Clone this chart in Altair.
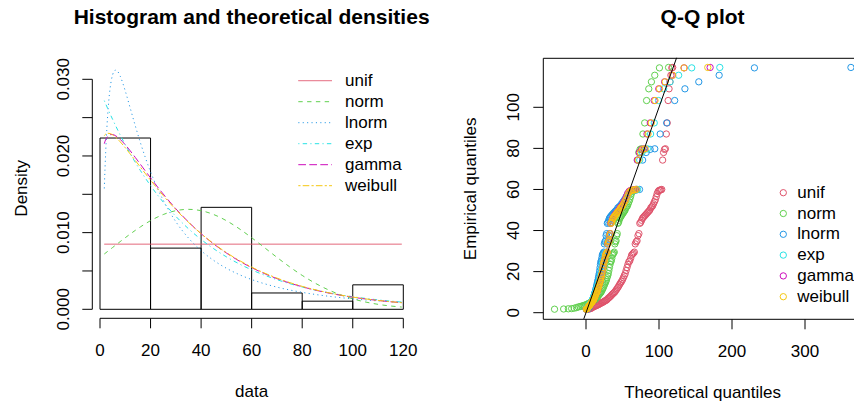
import altair as alt
import pandas as pd

FONT = "Liberation Sans"

# ---------------- data ----------------
dists = ["unif", "norm", "lnorm", "exp", "gamma", "weibull"]
colors = ["#DF536B", "#61D04F", "#2297E6", "#28E2E5", "#CD0BBC", "#F5C710"]
dashes = [[1, 0], [4.4, 4.4], [1.1, 3.3], [1.1, 3.3, 4.4, 3.3], [7.7, 3.3], [2.2, 2.2, 6.6, 2.2]]

# histogram
hist_left = [0, 20, 40, 60, 80, 100]
hist_right = [20, 40, 60, 80, 100, 120]
hist_density = [0.02234, 0.00798, 0.01330, 0.00213, 0.00106, 0.00319]

# theoretical densities
unif_x = [1.7, 119.4]
unif_d = [0.008496, 0.008496]

dens_x = [1.7, 2, 3, 4, 5, 6, 7, 8, 10, 12, 14, 16, 18, 20, 25, 30, 35, 40, 45, 50,
          55, 60, 70, 80, 90, 100, 110, 119.4]
exp_d = [0.027216, 0.026984, 0.026224, 0.025485, 0.024768, 0.024070, 0.023392, 0.022733,
         0.021471, 0.020279, 0.019152, 0.018089, 0.017084, 0.016135, 0.013987, 0.012125,
         0.010511, 0.009111, 0.007899, 0.006847, 0.005936, 0.005146, 0.003867, 0.002906,
         0.002184, 0.001641, 0.001233, 0.000942]
gamma_d = [0.021609, 0.021925, 0.022546, 0.022779, 0.022794, 0.022668, 0.022448, 0.022162,
           0.021460, 0.020652, 0.019790, 0.018907, 0.018020, 0.017142, 0.015040, 0.013116,
           0.011389, 0.009859, 0.008514, 0.007340, 0.006317, 0.005431, 0.004001, 0.002940,
           0.002153, 0.001575, 0.001151, 0.000855]
weibull_d = [0.022646, 0.022780, 0.022966, 0.022922, 0.022751, 0.022500, 0.022190, 0.021843,
             0.021074, 0.020247, 0.019396, 0.018538, 0.017685, 0.016847, 0.014843, 0.013005,
             0.011347, 0.009866, 0.008556, 0.007401, 0.006390, 0.005506, 0.004070, 0.002993,
             0.002191, 0.001598, 0.001161, 0.000858]

norm_x = [1.7, 2, 3, 4, 5, 6, 7, 8, 10, 12, 14, 16, 18, 20, 25, 30, 35, 40, 45, 50,
          55, 60, 65, 70, 75, 80, 85, 90, 95, 100, 110, 119.4]
norm_d = [0.007212, 0.007289, 0.007546, 0.007804, 0.008063, 0.008321, 0.008578, 0.008834,
          0.009338, 0.009829, 0.010302, 0.010751, 0.011173, 0.011561, 0.012359, 0.012864,
          0.013037, 0.012864, 0.012359, 0.011561, 0.010530, 0.009338, 0.008063, 0.006778,
          0.005548, 0.004422, 0.003431, 0.002592, 0.001907, 0.001366, 0.000647, 0.000291]

lnorm_x = [1.7, 2, 2.5, 3, 3.5, 4, 4.5, 5, 5.5, 6, 6.5, 7, 8, 9, 10, 12, 14, 16, 18, 20,
           25, 30, 35, 40, 45, 50, 55, 60, 70, 80, 90, 100, 110, 119.4]
lnorm_d = [0.015762, 0.018504, 0.022272, 0.025144, 0.027287, 0.028830, 0.029904, 0.030605,
           0.031010, 0.031187, 0.031180, 0.031026, 0.030411, 0.029522, 0.028477, 0.026189,
           0.023892, 0.021723, 0.019736, 0.017940, 0.014230, 0.011428, 0.009296, 0.007653,
           0.006370, 0.005354, 0.004540, 0.003881, 0.002894, 0.002211, 0.001722, 0.001364,
           0.001096, 0.000903]

# Q-Q plot: empirical quantiles (sorted data)
empirical = [1.7, 1.8, 1.9, 2.0, 2.2, 2.5, 2.8, 3.0, 3.2, 3.4,
             3.6, 3.8, 4.0, 4.3, 4.5, 4.8, 5.0, 5.2, 5.5, 5.8,
             6.0, 6.3, 6.8, 7.2, 7.6, 8.0, 8.5, 9.0, 9.4, 9.8,
             10.3, 11.0, 11.6, 12.3, 13.0, 13.8, 14.5, 15.2, 16.0, 17.0,
             18.0, 19.0, 20.5, 22.0, 23.5, 24.8, 25.2, 26.5, 28.0, 28.5,
             29.0, 29.5, 33.5, 34.5, 35.0, 37.5, 38.5, 43.5, 44.0, 45.0,
             46.0, 46.5, 47.0, 47.5, 48.0, 48.5, 49.0, 49.5, 50.0, 51.0,
             51.5, 52.0, 53.0, 54.0, 55.0, 56.5, 58.0, 59.0, 59.5, 59.7,
             59.8, 60.0, 74.3, 78.0, 79.5, 79.8, 87.0, 92.4, 103.3, 109.0,
             112.4, 115.6, 119.2, 119.4]

# theoretical quantiles, one list per distribution
q_unif = [2.33, 3.58, 4.83, 6.08, 7.33, 8.59, 9.84, 11.09, 12.34, 13.60,
          14.85, 16.10, 17.35, 18.60, 19.86, 21.11, 22.36, 23.61, 24.86, 26.12,
          27.37, 28.62, 29.87, 31.13, 32.38, 33.63, 34.88, 36.13, 37.39, 38.64,
          39.89, 41.14, 42.39, 43.65, 44.90, 46.15, 47.40, 48.66, 49.91, 51.16,
          52.41, 53.66, 54.92, 56.17, 57.42, 58.67, 59.93, 61.18, 62.43, 63.68,
          64.93, 66.19, 67.44, 68.69, 69.94, 71.19, 72.45, 73.70, 74.95, 76.20,
          77.46, 78.71, 79.96, 81.21, 82.46, 83.72, 84.97, 86.22, 87.47, 88.72,
          89.98, 91.23, 92.48, 93.73, 94.99, 96.24, 97.49, 98.74, 99.99, 101.25,
          102.50, 103.75, 105.00, 106.25, 107.51, 108.76, 110.01, 111.26, 112.52, 113.77,
          115.02, 116.27, 117.52, 118.77]
q_norm = [-43.1, -30.6, -24.2, -19.6, -16.0, -13.0, -10.4, -8.0, -5.9, -4.0,
          -2.3, -0.6, 1.0, 2.4, 3.9, 5.2, 6.5, 7.7, 8.9, 10.1,
          11.2, 12.3, 13.3, 14.4, 15.4, 16.4, 17.3, 18.3, 19.2, 20.2,
          21.1, 22.0, 22.9, 23.7, 24.6, 25.5, 26.3, 27.2, 28.0, 28.8,
          29.7, 30.5, 31.3, 32.1, 33.0, 33.8, 34.6, 35.4, 36.2, 37.0,
          37.9, 38.7, 39.5, 40.3, 41.2, 42.0, 42.8, 43.7, 44.5, 45.4,
          46.3, 47.2, 48.0, 48.9, 49.8, 50.8, 51.7, 52.7, 53.6, 54.6,
          55.6, 56.7, 57.7, 58.8, 59.9, 61.1, 62.3, 63.5, 64.8, 66.2,
          67.6, 69.0, 70.6, 72.3, 74.0, 75.9, 78.0, 80.4, 83.0, 86.0,
          89.6, 94.2, 100.6, 113.1]
q_lnorm = [1.25, 1.97, 2.50, 2.95, 3.36, 3.74, 4.12, 4.48, 4.83, 5.18,
           5.52, 5.87, 6.21, 6.55, 6.89, 7.23, 7.57, 7.93, 8.27, 8.63,
           8.99, 9.35, 9.72, 10.10, 10.47, 10.85, 11.25, 11.64, 12.04, 12.45,
           12.87, 13.29, 13.72, 14.18, 14.63, 15.09, 15.57, 16.06, 16.55, 17.05,
           17.59, 18.12, 18.67, 19.23, 19.81, 20.40, 21.02, 21.6, 22.3, 23.0,
           23.7, 24.4, 25.1, 25.9, 26.7, 27.5, 28.3, 29.2, 30.1, 31.1,
           32.1, 33.1, 34.2, 35.3, 36.5, 37.8, 39.1, 40.4, 41.9, 43.5,
           45.1, 46.8, 48.7, 50.6, 52.7, 55.0, 57.4, 60.1, 62.9, 66.0,
           69.5, 73.3, 77.6, 82.4, 87.9, 94.2, 101.6, 110.5, 121.5, 135.5,
           154.5, 182.4, 230.7, 362.9]
q_exp = [0.19, 0.56, 0.95, 1.33, 1.72, 2.11, 2.51, 2.91, 3.32, 3.73,
         4.15, 4.57, 4.99, 5.43, 5.86, 6.31, 6.76, 7.21, 7.67, 8.14,
         8.61, 9.09, 9.58, 10.07, 10.57, 11.08, 11.59, 12.11, 12.64, 13.18,
         13.73, 14.28, 14.85, 15.42, 16.01, 16.60, 17.20, 17.82, 18.44, 19.08,
         19.73, 20.39, 21.06, 21.75, 22.45, 23.16, 23.89, 24.63, 25.40, 26.17,
         26.97, 27.78, 28.62, 29.47, 30.35, 31.24, 32.17, 33.11, 34.08, 35.08,
         36.11, 37.17, 38.27, 39.40, 40.56, 41.77, 43.02, 44.32, 45.66, 47.06,
         48.52, 50.04, 51.63, 53.30, 55.05, 56.89, 58.84, 60.90, 63.09, 65.42,
         67.92, 70.62, 73.54, 76.72, 80.22, 84.11, 88.49, 93.50, 99.35, 106.37,
         115.17, 126.95, 144.82, 183.27]
q_gamma = [0.34, 0.90, 1.41, 1.91, 2.39, 2.86, 3.33, 3.80, 4.27, 4.74,
           5.20, 5.67, 6.14, 6.61, 7.08, 7.56, 8.04, 8.52, 9.01, 9.50,
           9.99, 10.49, 10.99, 11.50, 12.01, 12.53, 13.05, 13.58, 14.12, 14.66,
           15.21, 15.76, 16.32, 16.89, 17.47, 18.06, 18.66, 19.26, 19.88, 20.50,
           21.13, 21.77, 22.43, 23.09, 23.77, 24.45, 25.15, 25.85, 26.56, 27.29,
           28.04, 28.79, 29.57, 30.37, 31.20, 32.03, 32.86, 33.75, 34.65, 35.56,
           36.49, 37.47, 38.47, 39.48, 40.55, 41.64, 42.79, 43.95, 45.18, 46.43,
           47.74, 49.12, 50.56, 52.03, 53.62, 55.33, 57.03, 58.90, 60.86, 62.92,
           65.17, 67.56, 70.18, 73.07, 76.21, 79.66, 83.56, 88.08, 93.38, 99.68,
           107.64, 118.25, 134.46, 170.04]
q_weibull = [0.29, 0.78, 1.28, 1.74, 2.21, 2.67, 3.14, 3.60, 4.06, 4.53,
             5.00, 5.47, 5.93, 6.41, 6.88, 7.37, 7.86, 8.33, 8.83, 9.33,
             9.82, 10.33, 10.84, 11.36, 11.88, 12.41, 12.94, 13.47, 14.02, 14.57,
             15.13, 15.70, 16.27, 16.85, 17.45, 18.04, 18.65, 19.27, 19.89, 20.53,
             21.17, 21.83, 22.49, 23.17, 23.86, 24.56, 25.28, 26.00, 26.75, 27.50,
             28.28, 29.07, 29.88, 30.70, 31.55, 32.40, 33.30, 34.20, 35.12, 36.08,
             37.06, 38.06, 39.10, 40.17, 41.27, 42.41, 43.58, 44.80, 46.05, 47.36,
             48.71, 50.13, 51.60, 53.15, 54.76, 56.45, 58.24, 60.13, 62.13, 64.25,
             66.52, 68.97, 71.60, 74.47, 77.60, 81.08, 84.98, 89.43, 94.60, 100.78,
             108.48, 118.71, 134.12, 166.80]

# axis ticks and labels
left_y_ticks = [0, 0.005, 0.010, 0.015, 0.020, 0.025, 0.030]
left_y_labels = [0, 0.010, 0.020, 0.030]
left_x_ticks = [0, 20, 40, 60, 80, 100, 120]
right_y_ticks = [0, 20, 40, 60, 80, 100]
right_x_ticks = [0, 100, 200, 300]

# ---------------- tables ----------------
hist_df = pd.DataFrame({"lo": hist_left, "hi": hist_right, "dens": hist_density})

curves = []
for name, xs, ds in [("unif", unif_x, unif_d), ("norm", norm_x, norm_d),
                     ("lnorm", lnorm_x, lnorm_d), ("exp", dens_x, exp_d),
                     ("gamma", dens_x, gamma_d), ("weibull", dens_x, weibull_d)]:
    for xv, dv in zip(xs, ds):
        curves.append({"dist": name, "x": xv, "d": dv})
curve_df = pd.DataFrame(curves)

qq = []
for name, qs in zip(dists, [q_unif, q_norm, q_lnorm, q_exp, q_gamma, q_weibull]):
    for tq, eq in zip(qs, empirical):
        qq.append({"dist": name, "order": len(qq), "theo": tq, "emp": eq})
qq_df = pd.DataFrame(qq)

emp_rng = max(empirical) - min(empirical)
ref_df = pd.DataFrame({"v": [min(empirical) - 0.04 * emp_rng, max(empirical) + 0.04 * emp_rng]})
leg_df = pd.DataFrame({"dist": dists})

# ---------------- scales ----------------
def LX():
    return alt.Scale(domain=[0, 120], range=[100, 403.3], nice=False, zero=False)

def LY():
    return alt.Scale(domain=[0, 0.03], range=[309.3, 79.3], nice=False, zero=False)

def RX():
    return alt.Scale(domain=[0, 300], range=[586, 805], nice=False, zero=False)

def RY():
    return alt.Scale(domain=[0, 100], range=[312.7, 107.3], nice=False, zero=False)

def CS():
    return alt.Color("dist:N", scale=alt.Scale(domain=dists, range=colors), legend=None)

def DS():
    return alt.StrokeDash("dist:N", scale=alt.Scale(domain=dists, range=dashes), legend=None)


def text_layer(t, x, y, size=17, bold=False, angle=0, align="center", baseline="alphabetic"):
    return alt.Chart(pd.DataFrame({"t": [t]})).mark_text(
        font=FONT, fontSize=size, fontWeight="bold" if bold else "normal",
        angle=angle, align=align, baseline=baseline, color="black"
    ).encode(text="t:N", x=alt.value(x), y=alt.value(y))


layers = []

# ===== left panel: histogram and densities =====
layers.append(alt.Chart(hist_df).mark_rect(fillOpacity=0, stroke="black", strokeWidth=1).encode(
    x=alt.X("lo:Q", scale=LX(), axis=None), x2="hi:Q",
    y=alt.Y("dens:Q", scale=LY(), axis=None), y2=alt.datum(0)))

layers.append(alt.Chart(curve_df).mark_line(strokeWidth=1, interpolate="monotone").encode(
    x=alt.X("x:Q", scale=LX(), axis=None),
    y=alt.Y("d:Q", scale=LY(), axis=None),
    color=CS(), strokeDash=DS(), detail="dist:N"))

# y axis
layers.append(alt.Chart(pd.DataFrame({"lo": [left_y_ticks[0]], "hi": [left_y_ticks[-1]]})).mark_rule(
    color="black", strokeWidth=1).encode(
    y=alt.Y("lo:Q", scale=LY(), axis=None), y2="hi:Q", x=alt.value(92.3)))
layers.append(alt.Chart(pd.DataFrame({"v": left_y_ticks})).mark_rule(color="black", strokeWidth=1).encode(
    y=alt.Y("v:Q", scale=LY(), axis=None), x=alt.value(82.3), x2=alt.value(92.3)))
layers.append(alt.Chart(pd.DataFrame({"v": left_y_labels})).mark_text(
    font=FONT, fontSize=17, angle=270, align="center", baseline="alphabetic", color="black").encode(
    y=alt.Y("v:Q", scale=LY(), axis=None), x=alt.value(68.5),
    text=alt.Text("v:Q", format=".3f")))
# x axis
layers.append(alt.Chart(pd.DataFrame({"lo": [left_x_ticks[0]], "hi": [left_x_ticks[-1]]})).mark_rule(
    color="black", strokeWidth=1).encode(
    x=alt.X("lo:Q", scale=LX(), axis=None), x2="hi:Q", y=alt.value(318.3)))
layers.append(alt.Chart(pd.DataFrame({"v": left_x_ticks})).mark_rule(color="black", strokeWidth=1).encode(
    x=alt.X("v:Q", scale=LX(), axis=None), y=alt.value(318.3), y2=alt.value(328.3)))
layers.append(alt.Chart(pd.DataFrame({"v": left_x_ticks})).mark_text(
    font=FONT, fontSize=17, align="center", baseline="alphabetic", color="black").encode(
    x=alt.X("v:Q", scale=LX(), axis=None), y=alt.value(355.5), text=alt.Text("v:Q", format="d")))

# legend (lines)
LEGL = alt.Scale(type="point", domain=dists, range=[80.7, 185.7], padding=0)
layers.append(alt.Chart(leg_df).mark_rule(strokeWidth=1).encode(
    y=alt.Y("dist:N", scale=LEGL, axis=None), x=alt.value(298.3), x2=alt.value(332),
    color=CS(), strokeDash=DS()))
layers.append(alt.Chart(leg_df).mark_text(
    font=FONT, fontSize=17, align="left", baseline="middle", color="black").encode(
    y=alt.Y("dist:N", scale=LEGL, axis=None), x=alt.value(345), text="dist:N"))

layers.append(text_layer("Histogram and theoretical densities", 251.6, 24, size=21, bold=True))
layers.append(text_layer("data", 251.6, 396.5))
layers.append(text_layer("Density", 26.5, 188.3, angle=270))

# ===== right panel: Q-Q plot =====
layers.append(alt.Chart(pd.DataFrame({"a": [1]})).mark_rect(
    fillOpacity=0, stroke="black", strokeWidth=1).encode(
    x=alt.value(543.3), x2=alt.value(875), y=alt.value(58.3), y2=alt.value(319.3)))

layers.append(alt.Chart(qq_df).mark_point(shape="circle", filled=False, size=40, strokeWidth=1, opacity=1).encode(
    x=alt.X("theo:Q", scale=RX(), axis=None),
    y=alt.Y("emp:Q", scale=RY(), axis=None),
    color=CS(), order="order:Q"))

layers.append(alt.Chart(ref_df).mark_line(color="black", strokeWidth=1).encode(
    x=alt.X("v:Q", scale=RX(), axis=None), y=alt.Y("v:Q", scale=RY(), axis=None)))

# y axis
layers.append(alt.Chart(pd.DataFrame({"v": right_y_ticks})).mark_rule(color="black", strokeWidth=1).encode(
    y=alt.Y("v:Q", scale=RY(), axis=None), x=alt.value(533.3), x2=alt.value(543.3)))
layers.append(alt.Chart(pd.DataFrame({"v": right_y_ticks})).mark_text(
    font=FONT, fontSize=17, angle=270, align="center", baseline="alphabetic", color="black").encode(
    y=alt.Y("v:Q", scale=RY(), axis=None), x=alt.value(518.5), text=alt.Text("v:Q", format="d")))
# x axis
layers.append(alt.Chart(pd.DataFrame({"v": right_x_ticks})).mark_rule(color="black", strokeWidth=1).encode(
    x=alt.X("v:Q", scale=RX(), axis=None), y=alt.value(319.3), y2=alt.value(329.3)))
layers.append(alt.Chart(pd.DataFrame({"v": right_x_ticks})).mark_text(
    font=FONT, fontSize=17, align="center", baseline="alphabetic", color="black").encode(
    x=alt.X("v:Q", scale=RX(), axis=None), y=alt.value(356.5), text=alt.Text("v:Q", format="d")))

# legend (points)
LEGR = alt.Scale(type="point", domain=dists, range=[192.7, 296.7], padding=0)
layers.append(alt.Chart(leg_df).mark_point(shape="circle", filled=False, size=40, strokeWidth=1, opacity=1).encode(
    y=alt.Y("dist:N", scale=LEGR, axis=None), x=alt.value(783.3), color=CS()))
layers.append(alt.Chart(leg_df).mark_text(
    font=FONT, fontSize=17, align="left", baseline="middle", color="black").encode(
    y=alt.Y("dist:N", scale=LEGR, axis=None), x=alt.value(797.3), text="dist:N"))

layers.append(text_layer("Q-Q plot", 702.6, 24, size=21, bold=True))
layers.append(text_layer("Theoretical quantiles", 702.6, 397.5))
layers.append(text_layer("Empirical quantiles", 476, 188.8, angle=270))

chart = alt.layer(*layers).resolve_scale(
    x="independent", y="independent", color="independent", strokeDash="independent"
).properties(
    width=854, height=409, autosize="none", padding=0, background="white"
).configure_view(strokeWidth=0)

chart.save("out.html", embed_options={"renderer": "svg", "actions": False})
